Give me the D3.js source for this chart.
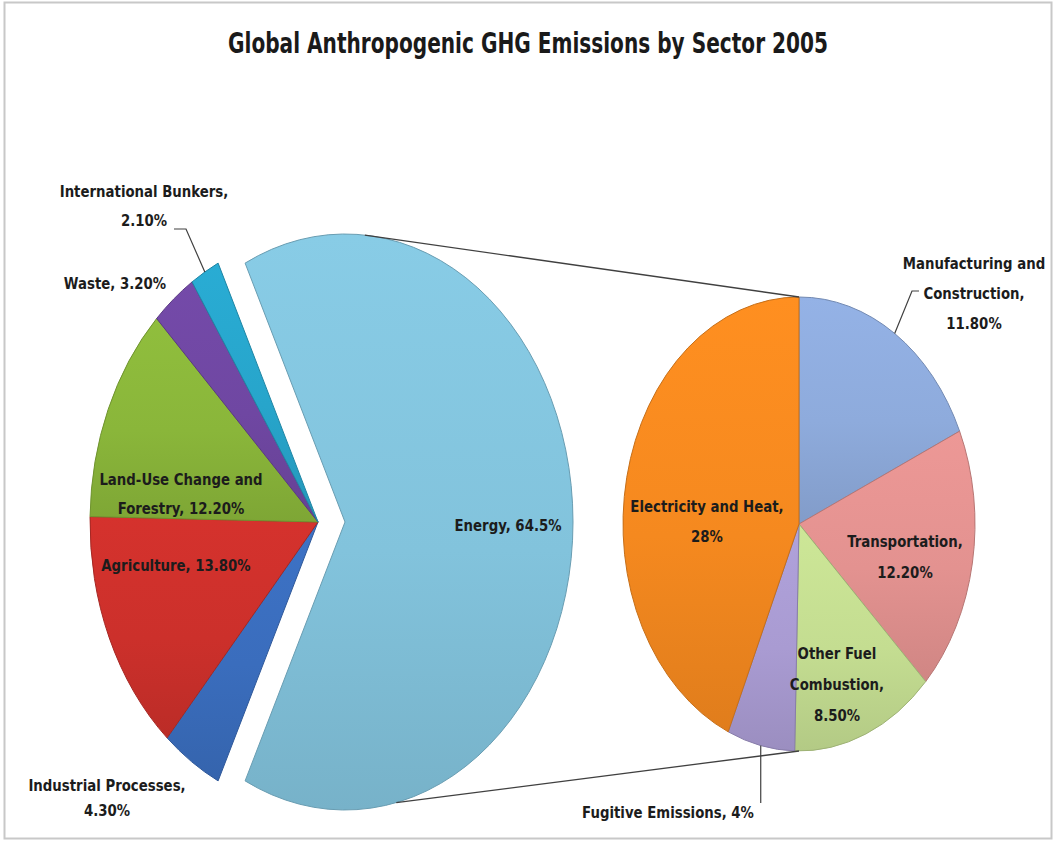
<!DOCTYPE html>
<html>
<head>
<meta charset="utf-8">
<script src="https://cdn.jsdelivr.net/npm/d3@7"></script>
<style>
body { margin: 0; background: #fff; }
text { font-family: 'DejaVu Sans Condensed', 'DejaVu Sans', sans-serif; font-weight: bold; fill: #1c1c1c; }
</style>
</head>
<body>
<div id="chart"></div>
<script>
// ---- data ----
var title = "Global Anthropogenic GHG Emissions by Sector 2005";

var mainNames = ["Energy", "Industrial Processes", "Agriculture", "Land-Use Change and Forestry", "Waste", "International Bunkers"];
var mainValues = [64.5, 4.3, 13.8, 12.2, 3.2, 2.1];
var mainValueText = ["64.5%", "4.30%", "13.80%", "12.20%", "3.20%", "2.10%"];

var subNames = ["Manufacturing and Construction", "Transportation", "Other Fuel Combustion", "Fugitive Emissions", "Electricity and Heat"];
var subValues = [11.8, 12.2, 8.5, 4, 28];
var subValueText = ["11.80%", "12.20%", "8.50%", "4%", "28%"];

// ---- styles / layout ----
var mainColors = ["#82c3dc", "#3a6dbd", "#cc302b", "#8ab63a", "#6f47a2", "#27a5cb"];
var subColors = ["#8eabdc", "#e39290", "#c4dd91", "#a99bd2", "#f5891f"];

// label boxes: x center, y center of first line, line gap, words before each break
var mainLabelPos = [
    {x: 508, y: 526, gap: 29, brk: []},
    {x: 107, y: 786, gap: 25, brk: [2]},
    {x: 176, y: 566, gap: 29, brk: []},
    {x: 181, y: 480, gap: 29, brk: [3]},
    {x: 115, y: 284, gap: 29, brk: []},
    {x: 144, y: 192, gap: 29, brk: [2]}
];
var subLabelPos = [
    {x: 974, y: 264, gap: 30, brk: [2, 3]},
    {x: 905, y: 542, gap: 31, brk: [1]},
    {x: 837, y: 654, gap: 31, brk: [2, 3]},
    {x: 668, y: 813, gap: 29, brk: []},
    {x: 707, y: 507, gap: 30, brk: [3]}
];

var W = 1055, H = 841;
var L = {cx: 318, cy: 522, rx: 228, ry: 288, explode: 27};
var R = {cx: 799, cy: 524, rx: 176, ry: 227};
var textStretch = 1.12;

var svg = d3.select("#chart").append("svg")
    .attr("width", W)
    .attr("height", H);

svg.append("rect")
    .attr("x", 4.5).attr("y", 2.5)
    .attr("width", W - 8).attr("height", H - 5)
    .attr("fill", "#fff")
    .attr("stroke", "#c8c8c8")
    .attr("stroke-width", 2);

var defs = svg.append("defs");
function addGrad(id, col) {
    var c = d3.color(col);
    var g = defs.append("linearGradient").attr("id", id)
        .attr("x1", 0).attr("y1", 0).attr("x2", 0).attr("y2", 1);
    g.append("stop").attr("offset", "0%").attr("stop-color", c.brighter(0.12));
    g.append("stop").attr("offset", "55%").attr("stop-color", c);
    g.append("stop").attr("offset", "100%").attr("stop-color", c.darker(0.25));
}
mainColors.forEach(function(c, i) { addGrad("gm" + i, c); });
subColors.forEach(function(c, i) { addGrad("gs" + i, c); });

// title
svg.append("text")
    .attr("transform", "translate(528,53) scale(1,1.25)")
    .attr("text-anchor", "middle")
    .attr("font-size", 22)
    .attr("textLength", 600)
    .attr("lengthAdjust", "spacingAndGlyphs")
    .style("fill", "#1a1a1a")
    .text(title);

// ---- left pie: energy centred on the right side ----
var total = d3.sum(mainValues);
var energyAng = 2 * Math.PI * mainValues[0] / total;
var start = Math.PI / 2 - energyAng / 2;
var pieL = d3.pie().sort(null).startAngle(start).endAngle(start + 2 * Math.PI);
var arcsL = pieL(mainValues);
var arcL = d3.arc().innerRadius(0).outerRadius(L.rx);

var gl = svg.append("g")
    .attr("transform", "translate(" + L.cx + "," + L.cy + ") scale(1," + (L.ry / L.rx) + ")");
gl.selectAll("path")
    .data(arcsL)
    .join("path")
    .attr("transform", function(d, i) { return i == 0 ? "translate(" + L.explode + ",0)" : null; })
    .attr("d", arcL)
    .attr("fill", function(d, i) { return "url(#gm" + i + ")"; })
    .attr("stroke", function(d, i) { return d3.color(mainColors[i]).darker(0.6); })
    .attr("stroke-width", 1)
    .attr("vector-effect", "non-scaling-stroke");

// ---- right pie: breakdown of energy ----
var pieR = d3.pie().sort(null);
var arcsR = pieR(subValues);
var arcR = d3.arc().innerRadius(0).outerRadius(R.rx);
var gr = svg.append("g")
    .attr("transform", "translate(" + R.cx + "," + R.cy + ") scale(1," + (R.ry / R.rx) + ")");
gr.selectAll("path")
    .data(arcsR)
    .join("path")
    .attr("d", arcR)
    .attr("fill", function(d, i) { return "url(#gs" + i + ")"; })
    .attr("stroke", function(d, i) { return d3.color(subColors[i]).darker(0.6); })
    .attr("stroke-width", 1)
    .attr("vector-effect", "non-scaling-stroke");

// point on an ellipse at pie angle a
function onEllipse(e, a, dx) {
    return [e.cx + (dx || 0) + e.rx * Math.sin(a), e.cy - e.ry * Math.cos(a)];
}

// series lines between the energy slice and the second pie
var rad = Math.PI / 180;
var connectors = [
    [onEllipse(L, 5 * rad, L.explode), onEllipse(R, 0)],
    [onEllipse(L, 167 * rad, L.explode), onEllipse(R, Math.PI)]
];
svg.selectAll(".conn")
    .data(connectors)
    .join("line")
    .attr("class", "conn")
    .attr("x1", function(d) { return d[0][0]; })
    .attr("y1", function(d) { return d[0][1]; })
    .attr("x2", function(d) { return d[1][0]; })
    .attr("y2", function(d) { return d[1][1]; })
    .attr("stroke", "#404040")
    .attr("stroke-width", 1.3);

// leader lines
function mid(d) { return (d.startAngle + d.endAngle) / 2; }
var lead = d3.line();
var bunk = onEllipse(L, mid(arcsL[5]));
var manu = onEllipse(R, mid(arcsR[0]));
var fug = onEllipse(R, mid(arcsR[3]));
var leaders = [
    [[174, 229], [186, 229], bunk],
    [[919, 291], [912, 291], manu],
    [fug, [fug[0], 803]]
];
svg.selectAll(".leader")
    .data(leaders)
    .join("path")
    .attr("class", "leader")
    .attr("d", lead)
    .attr("fill", "none")
    .attr("stroke", "#404040")
    .attr("stroke-width", 1.2);

// ---- labels ----
function splitLabel(name, val, brk) {
    var words = (name + ", " + val).split(" ");
    var lines = [], s = 0;
    brk.concat([words.length]).forEach(function(b) {
        lines.push(words.slice(s, b).join(" "));
        s = b;
    });
    return lines;
}
function drawLabels(names, vals, pos) {
    names.forEach(function(n, i) {
        var p = pos[i];
        var lines = splitLabel(n, vals[i], p.brk);
        lines.forEach(function(t, j) {
            svg.append("text")
                .attr("transform", "translate(" + p.x + "," + (p.y + j * p.gap + 5) + ") scale(1," + textStretch + ")")
                .attr("text-anchor", "middle")
                .attr("font-size", 14.8)
                .text(t);
        });
    });
}
drawLabels(mainNames, mainValueText, mainLabelPos);
drawLabels(subNames, subValueText, subLabelPos);
</script>
</body>
</html>
